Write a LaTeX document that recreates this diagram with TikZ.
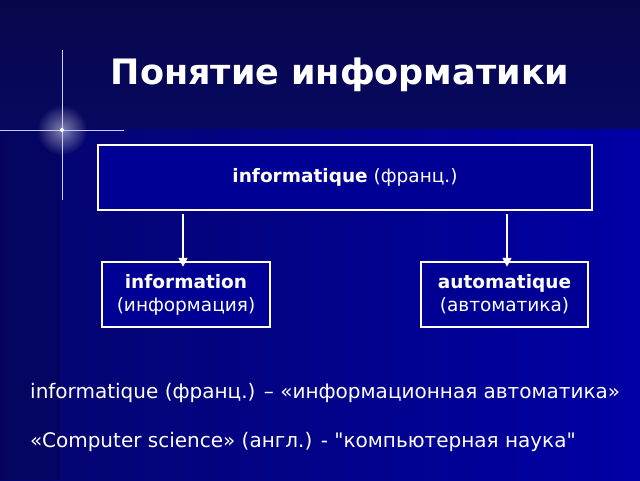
\documentclass[tikz,border=0pt]{standalone}
\usepackage{fontspec}
\setmainfont{DejaVu Sans}
\usetikzlibrary{arrows.meta}
\definecolor{topbg}{RGB}{8,8,95}
\definecolor{lowbg}{RGB}{0,0,165}
\definecolor{leftbg}{RGB}{5,5,110}
\begin{document}
\begin{tikzpicture}[x=1pt,y=-1pt,
  box/.style={draw=white,line width=2.5pt,fill=lowbg!90!black,text=white,align=center,font=\fontsize{18.5}{23}\selectfont},
  arr/.style={white,line width=1.5pt,-{Triangle[length=9pt,width=9pt]}},
  txt/.style={text=white,anchor=west,font=\fontsize{20}{23}\selectfont,inner sep=0}]
\useasboundingbox (0,0) rectangle (640,480);
\begin{scope}
\clip (0,0) rectangle (640,480);
\shade[left color=leftbg,right color=lowbg] (0,128) rectangle (640,480);
\fill[leftbg!80!black,opacity=.6] (0,128) rectangle (60,480);
\shade[top color=topbg!80!black,bottom color=topbg] (0,0) rectangle (640,128);
\shade[inner color=white,outer color=topbg,opacity=.5] (62,130) circle (25);
\draw[white!80!blue,line width=1pt] (0,130) -- (124,130);
\draw[white!80!blue,line width=1pt] (62,50) -- (62,200);
\fill[white] (62,130) circle (2);
\node[font=\bfseries\fontsize{35}{42}\selectfont,text=white] (title) at (340,75) {Понятие информатики};
\node[box,minimum width=494,minimum height=65] (top) at (345,177.5) {\textbf{informatique} (франц.)};
\node[box,minimum width=168,minimum height=65] (l) at (186,294.5) {\textbf{information}\\(информация)};
\node[box,minimum width=167,minimum height=65] (r) at (504.5,294.5) {\textbf{automatique}\\(автоматика)};
\draw[arr] (top.south -| 183,0) ++(0,3) -- ([yshift=-6pt]l.north -| 183,0);
\draw[arr] (top.south -| 507,0) ++(0,3) -- ([yshift=-6pt]r.north -| 507,0);
\node[txt] (t1) at (30,393) {informatique (франц.) – «информационная автоматика»};
\node[txt] (t2) at (30,442) {«Computer science» (англ.) - \textquotedbl компьютерная наука\textquotedbl};
\end{scope}
\end{tikzpicture}
\end{document}
